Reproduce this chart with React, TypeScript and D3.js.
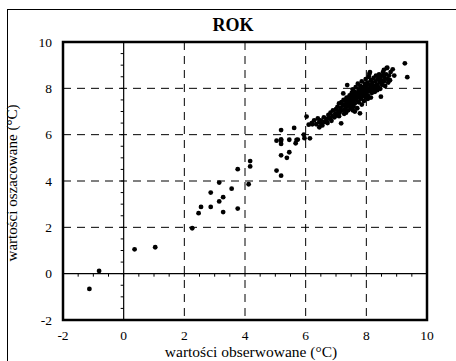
import React from "react";
import * as d3 from "d3";

const title = "ROK";
const xLabel = "wartości obserwowane (°C)";
const yLabel = "wartości oszacowane (°C)";
const xTicks = [-2, 0, 2, 4, 6, 8, 10];
const yTicks = [-2, 0, 2, 4, 6, 8, 10];
const gridValues = [2, 4, 6, 8];

// observed (x) / estimated (y)
const obsLow = [-1.13, -0.81, 0.36, 1.04, 2.26, 2.47, 2.55, 2.87, 2.87, 3.15, 3.15, 3.28, 3.28, 3.56, 3.76, 3.76, 4.12, 4.17, 4.17];
const estLow = [-0.66, 0.12, 1.05, 1.14, 1.96, 2.61, 2.88, 2.88, 3.5, 3.93, 3.12, 3.3, 2.66, 3.67, 4.51, 2.81, 3.86, 4.63, 4.86];

const obsMid = [5.04, 5.19, 5.04, 5.19, 5.19, 5.19, 5.19, 5.19, 5.38, 5.46, 5.46, 5.62, 5.67, 5.7, 5.74, 5.94, 5.96, 6.14, 6.1, 6.45, 6.03, 6.22, 6.2, 6.5, 6.7];
const estMid = [4.45, 4.23, 5.74, 5.74, 5.6, 5.8, 6.2, 5.11, 5.0, 5.24, 5.78, 6.29, 5.63, 5.77, 5.79, 6.0, 5.85, 5.84, 6.43, 6.32, 6.78, 6.45, 6.5, 6.5, 6.55];

const obsCluster = [
  6.28, 6.35, 6.4, 6.45, 6.5, 6.55, 6.6, 6.62, 6.68, 6.72, 6.75, 6.8, 6.82, 6.85, 6.88, 6.9, 6.95, 6.98, 7.0,
  7.02, 7.05, 7.08, 7.1, 7.12, 7.15, 7.18, 7.2, 7.22, 7.25, 7.27, 7.28, 7.3, 7.32, 7.35, 7.35, 7.38, 7.4, 7.4, 7.42, 7.45, 7.45, 7.48, 7.48, 7.17, 7.24, 7.37, 7.1, 7.33,
  7.5, 7.5, 7.52, 7.55, 7.55, 7.58, 7.58, 7.6, 7.62, 7.62, 7.65, 7.65, 7.68, 7.7, 7.7, 7.72, 7.72, 7.75, 7.75, 7.78, 7.79, 7.8, 7.8, 7.82, 7.84, 7.85, 7.86, 7.88, 7.9, 7.9, 7.92, 7.94, 7.95, 7.96, 7.98, 7.98, 7.55, 7.62, 7.85,
  8.0, 8.0, 8.02, 8.04, 8.05, 8.06, 8.08, 8.1, 8.1, 8.12, 8.14, 8.15, 8.18, 8.18, 8.2, 8.22, 8.24, 8.25, 8.28, 8.3, 8.3, 8.32, 8.35, 8.36, 8.38, 8.4, 8.42, 8.44, 8.45, 8.46, 8.48, 8.48, 8.05, 8.15, 8.12,
  8.52, 8.52, 8.55, 8.58, 8.6, 8.62, 8.65, 8.67, 8.7, 8.72, 8.75, 8.78, 8.8, 8.87, 8.69, 8.92, 9.27, 9.35, 8.58,
];
const estCluster = [
  6.62, 6.45, 6.7, 6.55, 6.62, 6.4, 6.75, 6.55, 6.68, 6.5, 6.85, 6.7, 6.95, 6.6, 6.8, 7.05, 6.75, 6.92, 7.1,
  6.85, 7.2, 7.0, 7.35, 6.95, 7.15, 7.4, 7.05, 7.25, 7.5, 6.9, 7.3, 7.1, 7.45, 7.2, 7.6, 7.35, 7.05, 7.5, 7.25, 7.7, 7.4, 7.15, 7.55, 6.49, 7.78, 8.14, 6.8, 6.95,
  7.3, 7.62, 7.8, 7.45, 7.95, 7.2, 7.68, 7.55, 7.85, 7.35, 7.7, 8.05, 7.5, 7.14, 7.8, 7.62, 8.2, 7.4, 7.95, 7.7, 6.92, 7.85, 8.1, 7.55, 7.75, 8.3, 7.95, 7.65, 8.05, 7.85, 7.45, 7.75, 8.2, 7.95, 8.4, 7.6, 7.05, 7.0, 7.3,
  7.8, 8.1, 7.95, 8.25, 7.7, 8.0, 8.5, 7.88, 8.62, 8.15, 7.98, 8.35, 7.8, 8.08, 8.25, 7.95, 8.45, 8.1, 7.85, 8.3, 8.0, 8.55, 8.15, 7.92, 8.4, 8.05, 8.6, 8.25, 8.48, 7.98, 7.64, 8.35, 7.55, 7.6, 8.7,
  8.15, 8.55, 8.7, 8.3, 8.45, 8.1, 8.6, 8.87, 8.4, 8.25, 8.55, 8.35, 8.7, 8.82, 8.89, 8.55, 9.08, 8.48, 8.8,
];

const W = 456;
const H = 361;
const left = 63;
const right = 427;
const top = 42;
const bottom = 320;

export default function App() {
  const x = d3.scaleLinear().domain([-2, 10]).range([left, right]);
  const y = d3.scaleLinear().domain([-2, 10]).range([bottom, top]);
  const minor = d3.range(-4, 21).map((i) => i * 0.5);

  const pts: [number, number][] = [];
  [[obsLow, estLow], [obsMid, estMid], [obsCluster, estCluster]].forEach(([xs, ys]) => {
    xs.forEach((v, i) => pts.push([v, ys[i]]));
  });

  const font = "'Liberation Serif', 'Times New Roman', serif";

  return (
    <svg
      width={W}
      height={H}
      style={{ position: "absolute", left: 0, top: 0, background: "#fff" }}
      fontFamily={font}
    >
      <rect x={7.5} y={9.5} width={W} height={H} fill="#fff" stroke="#000" strokeWidth={1} />

      {/* dashed grid */}
      {gridValues.map((v) => (
        <line key={"gx" + v} x1={x(v)} x2={x(v)} y1={top} y2={bottom} stroke="#000" strokeWidth={1} strokeDasharray="8,6" />
      ))}
      {gridValues.map((v) => (
        <line key={"gy" + v} x1={left} x2={right} y1={y(v)} y2={y(v)} stroke="#000" strokeWidth={1} strokeDasharray="8,6" />
      ))}

      {/* zero lines */}
      <line x1={x(0)} x2={x(0)} y1={top} y2={bottom} stroke="#000" strokeWidth={1.2} />
      <line x1={left} x2={right} y1={y(0)} y2={y(0)} stroke="#000" strokeWidth={1.2} />
      {minor.map((v) => (
        <line key={"mx" + v} x1={x(v)} x2={x(v)} y1={y(0)} y2={y(0) + 3} stroke="#000" strokeWidth={1} />
      ))}
      {minor.map((v) => (
        <line key={"my" + v} x1={x(0) - 3} x2={x(0)} y1={y(v)} y2={y(v)} stroke="#000" strokeWidth={1} />
      ))}

      {/* points */}
      {pts.map(([a, b], i) => (
        <circle key={i} cx={x(a)} cy={y(b)} r={2.4} fill="#000" />
      ))}

      {/* frame */}
      <rect x={left} y={top} width={right - left} height={bottom - top} fill="none" stroke="#000" strokeWidth={2.5} />

      {/* tick labels */}
      {xTicks.map((v) => (
        <text key={"tx" + v} x={x(v)} y={340} textAnchor="middle" fontSize={13.5}>
          {v}
        </text>
      ))}
      {yTicks.map((v) => (
        <text key={"ty" + v} x={52} y={y(v) + 4.5} textAnchor="end" fontSize={13.5}>
          {v}
        </text>
      ))}

      <text x={233} y={31} textAnchor="middle" fontSize={18} fontWeight="bold">
        {title}
      </text>
      <text x={251} y={357} textAnchor="middle" fontSize={15.5}>
        {xLabel}
      </text>
      <text transform={`translate(17, 183) rotate(-90)`} textAnchor="middle" fontSize={15}>
        {yLabel}
      </text>
    </svg>
  );
}
